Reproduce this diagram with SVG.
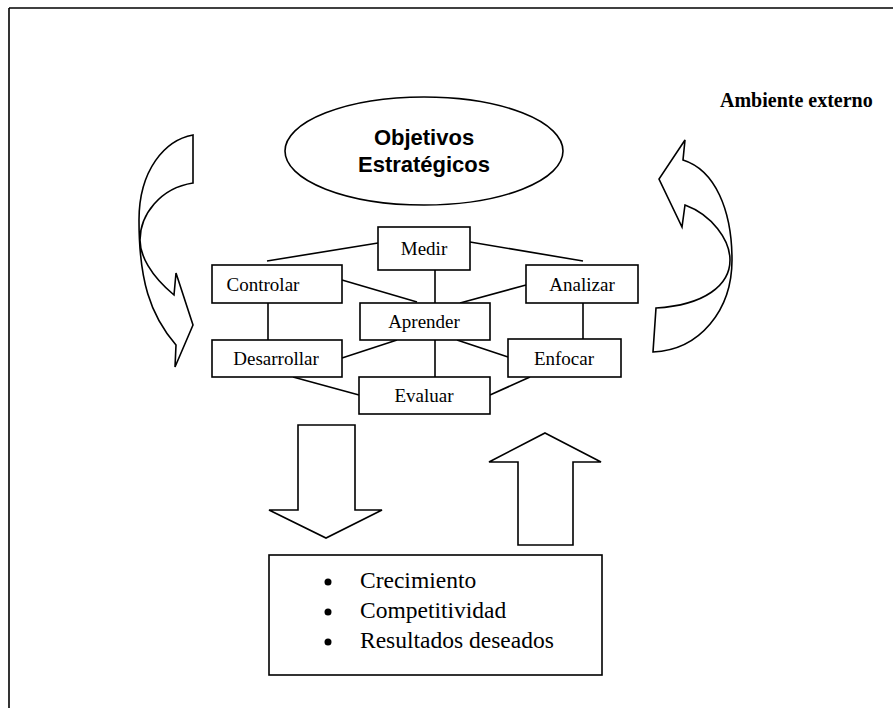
<svg xmlns="http://www.w3.org/2000/svg" width="893" height="708" viewBox="0 0 893 708">
<style>
.shape{fill:#fff;stroke:#000;stroke-width:1.6;stroke-linejoin:miter}
.box{fill:#fff;stroke:#000;stroke-width:1.6}
.lbl{font-family:"Liberation Serif","Times New Roman",serif;font-size:19px;fill:#000;text-anchor:middle}
.conn line{stroke:#000;stroke-width:1.6}
.item{font-family:"Liberation Serif","Times New Roman",serif;font-size:23.5px;fill:#000}
</style>
<rect width="893" height="708" fill="#fff"/>
<g id="frame">
<line x1="9" y1="8" x2="893" y2="8" stroke="#000" stroke-width="1.6"/>
<line x1="9" y1="8" x2="9" y2="708" stroke="#000" stroke-width="1.6"/>
</g>
<g id="ambiente">
<text x="720" y="107" font-family="Liberation Serif,serif" font-weight="bold" font-size="20">Ambiente externo</text>
</g>
<g id="objetivos">
<ellipse cx="424" cy="151" rx="139" ry="54" class="shape"/>
<text x="424" y="145" font-family="Liberation Sans,Arial,sans-serif" font-weight="bold" font-size="22" text-anchor="middle">Objetivos</text>
<text x="424" y="172" font-family="Liberation Sans,Arial,sans-serif" font-weight="bold" font-size="22" text-anchor="middle">Estratégicos</text>
</g>
<g id="arrow-left">
<path class="shape" d="M193,135 C165,140 139,170 139,220 C139,280 150,315 176,345 L175,367 L193,325 L176,273 L174,295 C150,275 140,255 140,240 C140,215 160,188 193,183 Z"/>
</g>
<g id="arrow-right">
<path class="shape" d="M653,352 C700,350 732,310 732,260 C732,210 715,170 683,160 L685,140 L659,179 L682,227 L685,205 C712,215 730,240 730,260 C730,285 705,305 656,308 Z"/>
</g>
<g class="conn" id="connectors">
<line x1="378" y1="243" x2="267" y2="261"/>
<line x1="470" y1="242" x2="583" y2="261"/>
<line x1="435" y1="270" x2="435" y2="303"/>
<line x1="342" y1="280" x2="417" y2="302"/>
<line x1="526" y1="285" x2="460" y2="303"/>
<line x1="268" y1="303" x2="268" y2="340"/>
<line x1="583" y1="302" x2="583" y2="339"/>
<line x1="342" y1="358" x2="397" y2="340"/>
<line x1="457" y1="340" x2="508" y2="357"/>
<line x1="435" y1="340" x2="435" y2="377"/>
<line x1="293" y1="377" x2="359" y2="395"/>
<line x1="490" y1="395" x2="530" y2="377"/>
</g>
<g id="medir"><rect class="box" x="378" y="227" width="92" height="43"/><text class="lbl" x="424" y="255">Medir</text></g>
<g id="controlar"><rect class="box" x="212" y="265" width="130" height="38"/><text class="lbl" x="263" y="291">Controlar</text></g>
<g id="analizar"><rect class="box" x="526" y="265" width="112" height="38"/><text class="lbl" x="582" y="291">Analizar</text></g>
<g id="aprender"><rect class="box" x="360" y="303" width="130" height="37"/><text class="lbl" x="424" y="328">Aprender</text></g>
<g id="desarrollar"><rect class="box" x="212" y="340" width="130" height="37"/><text class="lbl" x="276" y="365">Desarrollar</text></g>
<g id="enfocar"><rect class="box" x="508" y="339" width="113" height="38"/><text class="lbl" x="564" y="365">Enfocar</text></g>
<g id="evaluar"><rect class="box" x="359" y="377" width="131" height="37"/><text class="lbl" x="424" y="402">Evaluar</text></g>
<g id="arrow-down">
<path class="shape" d="M298,425 L355,425 L355,510 L382,510 L326,538 L269,510 L298,510 Z"/>
</g>
<g id="arrow-up">
<path class="shape" d="M545,433 L601,462 L573,462 L573,545 L518,545 L518,462 L489,462 Z"/>
</g>
<g id="resultados">
<rect class="box" x="269" y="555" width="333" height="120"/>
<circle cx="328" cy="582" r="3.5"/>
<circle cx="328" cy="612" r="3.5"/>
<circle cx="328" cy="642" r="3.5"/>
<text class="item" x="360" y="588">Crecimiento</text>
<text class="item" x="360" y="618">Competitividad</text>
<text class="item" x="360" y="648">Resultados deseados</text>
</g>
</svg>
